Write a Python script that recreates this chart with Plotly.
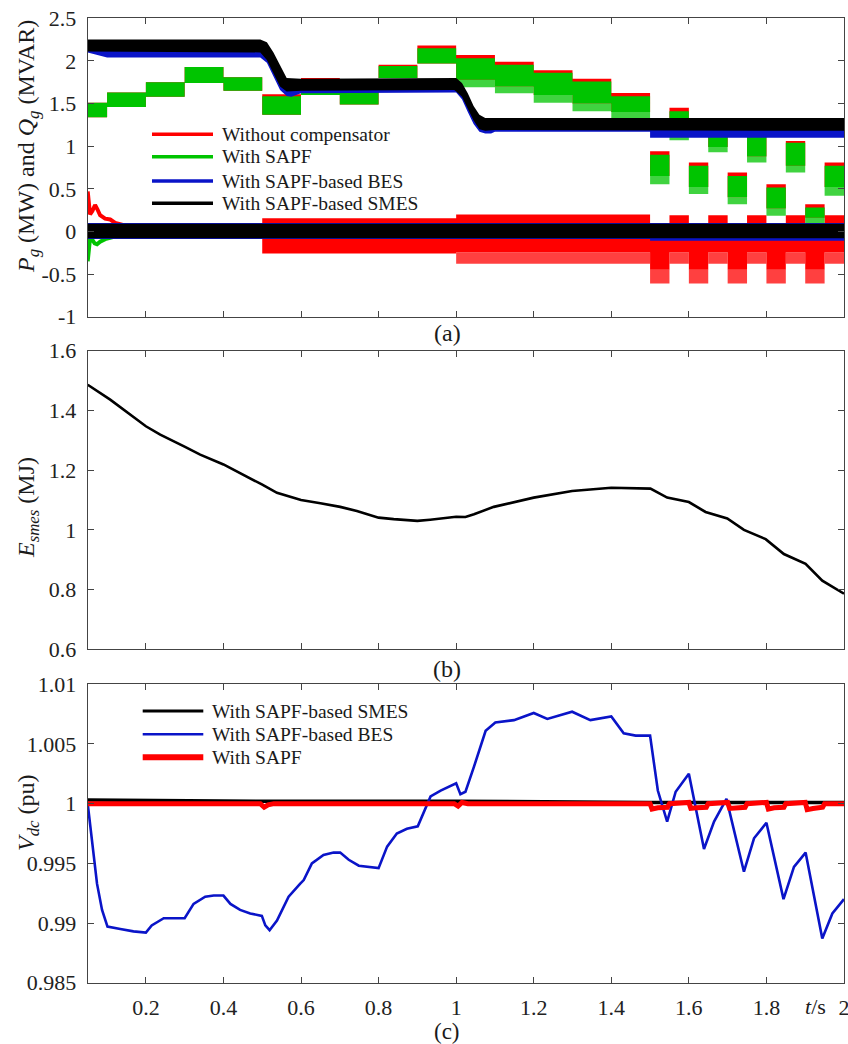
import plotly.graph_objects as go

W, H = 848, 1044

# ---------------- Panel (a): Pg / Qg ----------------
# step segments (edges in seconds)
SEG_EDGES = [0.05, 0.1, 0.2, 0.3, 0.4, 0.5, 0.6, 0.7, 0.8, 0.9, 1.0, 1.1, 1.2, 1.3, 1.4,
             1.5, 1.55, 1.6, 1.65, 1.7, 1.75, 1.8, 1.85, 1.9, 1.95, 2.0]
# With SAPF: P band (top, solid bottom, tooth bottom)
SAPF_P_HI = [1.51, 1.63, 1.75, 1.93, 1.81, 1.585, 1.78, 1.64, 1.94, 2.15, 2.03, 1.955, 1.86, 1.76, 1.585,
             0.90, 1.41, 0.77, 1.20, 0.65, 1.20, 0.515, 1.04, 0.28, 0.77]
SAPF_P_LO = [1.34, 1.46, 1.58, 1.74, 1.65, 1.37, 1.60, 1.49, 1.80, 1.97, 1.78, 1.70, 1.60, 1.50, 1.40,
             0.65, 1.15, 0.52, 0.99, 0.40, 0.88, 0.27, 0.77, 0.16, 0.52]
SAPF_P_TOOTH = [1.34, 1.46, 1.58, 1.74, 1.65, 1.37, 1.60, 1.49, 1.80, 1.97, 1.69, 1.62, 1.51, 1.41, 1.33,
                0.555, 1.07, 0.44, 0.93, 0.32, 0.81, 0.185, 0.69, 0.10, 0.42]
# Without compensator: P top (bottom follows SAPF)
NOCOMP_P_HI = [1.51, 1.63, 1.75, 1.93, 1.81, 1.61, 1.80, 1.64, 1.955, 2.18, 2.07, 1.99, 1.89, 1.79, 1.625,
               0.94, 1.45, 0.81, 1.20, 0.69, 1.20, 0.555, 1.06, 0.32, 0.81]
# Without compensator: Q band
NOCOMP_Q_EDGES = [0.5, 1.0, 1.5, 1.55, 1.6, 1.65, 1.7, 1.75, 1.8, 1.85, 1.9, 1.95, 2.0]
NOCOMP_Q_HI = [0.155, 0.20, 0.05, 0.19, 0.05, 0.19, 0.05, 0.19, 0.05, 0.19, 0.05, 0.19]
NOCOMP_Q_LO = [-0.26, -0.245, -0.45, -0.245, -0.45, -0.245, -0.45, -0.245, -0.45, -0.245, -0.45, -0.245]
NOCOMP_Q_TOOTH = [-0.26, -0.38, -0.61, -0.38, -0.61, -0.38, -0.61, -0.38, -0.61, -0.38, -0.61, -0.38]
# start-up transients
NOCOMP_Q_T = [0.05, 0.052, 0.056, 0.062, 0.069, 0.075, 0.082, 0.095, 0.108, 0.121, 0.138, 0.16, 0.5]
NOCOMP_Q_V = [0.47, 0.40, 0.20, 0.24, 0.31, 0.26, 0.19, 0.15, 0.14, 0.10, 0.08, 0.04, 0.03]
SAPF_Q_T = [0.05, 0.052, 0.056, 0.062, 0.068, 0.074, 0.082, 0.095, 0.12, 0.5, 2.0]
SAPF_Q_V = [-0.35, -0.20, -0.08, -0.10, -0.14, -0.15, -0.12, -0.09, -0.06, -0.03, -0.03]
# SAPF-based BES
BES_P_T = [0.05, 0.1, 0.495, 0.512, 0.529, 0.546, 0.563, 0.575, 0.6, 1.0, 1.015, 1.03, 1.045, 1.06,
           1.075, 1.09, 1.1, 1.5, 1.5, 2.0]
BES_P_HI = [2.22, 2.22, 2.22, 2.18, 2.06, 1.90, 1.77, 1.76, 1.77, 1.77, 1.70, 1.58, 1.44, 1.33,
            1.30, 1.30, 1.30, 1.30, 1.30, 1.30]
BES_P_LO = [2.10, 2.04, 2.04, 1.98, 1.83, 1.66, 1.59, 1.58, 1.62, 1.63, 1.55, 1.40, 1.26, 1.17,
            1.15, 1.15, 1.17, 1.17, 1.10, 1.10]
BES_Q_T = [0.05, 1.5, 1.5, 2.0]
BES_Q_HI = [0.10, 0.10, 0.10, 0.10]
BES_Q_LO = [-0.09, -0.09, -0.11, -0.11]
# SAPF-based SMES
SMES_P_T = [0.05, 0.495, 0.512, 0.529, 0.546, 0.563, 0.6, 0.995,
            1.0, 1.015, 1.03, 1.045, 1.06, 1.075, 1.1, 2.0]
SMES_P_HI = [2.25, 2.25, 2.22, 2.10, 1.95, 1.80, 1.79, 1.80,
             1.80, 1.74, 1.62, 1.47, 1.37, 1.33, 1.33, 1.33]
SMES_P_LO = [2.11, 2.10, 2.01, 1.86, 1.70, 1.64, 1.65, 1.66,
             1.64, 1.58, 1.44, 1.30, 1.20, 1.18, 1.19, 1.18]
SMES_Q_T = [0.05, 2.0]
SMES_Q_HI = [0.09, 0.09]
SMES_Q_LO = [-0.08, -0.08]

# ---------------- Panel (b): E_smes ----------------
E_T = [0.05, 0.108, 0.2, 0.237, 0.301, 0.34, 0.4, 0.443, 0.499, 0.538, 0.6, 0.65, 0.701, 0.744, 0.8,
       0.839, 0.9, 0.933, 1.0, 1.024, 1.046, 1.097, 1.2, 1.299, 1.4, 1.501, 1.544, 1.6, 1.643, 1.699,
       1.742, 1.798, 1.845, 1.901, 1.944, 2.0]
E_V = [1.486, 1.436, 1.347, 1.319, 1.278, 1.252, 1.219, 1.191, 1.152, 1.124, 1.100, 1.089, 1.077, 1.063,
       1.041, 1.036, 1.030, 1.034, 1.044, 1.043, 1.052, 1.077, 1.108, 1.130, 1.141, 1.138, 1.108, 1.093,
       1.060, 1.038, 1.000, 0.969, 0.919, 0.886, 0.830, 0.786]

# ---------------- Panel (c): Vdc ----------------
VB_T = [0.05, 0.061, 0.074, 0.087, 0.101, 0.134, 0.168, 0.2, 0.215, 0.246, 0.271, 0.3, 0.323, 0.353,
        0.375, 0.4, 0.418, 0.443, 0.469, 0.499, 0.508, 0.519, 0.538, 0.568, 0.598, 0.607, 0.628, 0.658,
        0.684, 0.701, 0.723, 0.749, 0.8, 0.822, 0.847, 0.873, 0.901, 0.915, 0.934, 0.96, 1.0, 1.011,
        1.024, 1.046, 1.076, 1.101, 1.149, 1.2, 1.235, 1.299, 1.346, 1.4, 1.432, 1.463, 1.5, 1.52,
        1.544, 1.566, 1.6, 1.639, 1.665, 1.697, 1.742, 1.768, 1.8, 1.844, 1.871, 1.901, 1.944, 1.97, 2.0]
VB_V = [1.0, 0.9969, 0.9933, 0.9911, 0.9897, 0.9895, 0.9893, 0.9892, 0.9898, 0.9904, 0.9904, 0.9904,
        0.9916, 0.9922, 0.9923, 0.9923, 0.9916, 0.9911, 0.9908, 0.9906, 0.9898, 0.9894, 0.9902, 0.9922,
        0.9933, 0.9936, 0.9950, 0.9957, 0.9959, 0.9959, 0.9953, 0.9948, 0.9946, 0.9964, 0.9975, 0.9979,
        0.9981, 0.9992, 1.0006, 1.0011, 1.0017, 1.0008, 1.0010, 1.0031, 1.0061, 1.0068, 1.0070, 1.0076,
        1.0071, 1.0077, 1.0070, 1.0073, 1.0059, 1.0057, 1.0057, 1.0011, 0.9985, 1.0010, 1.0025, 0.9962,
        0.9985, 1.0004, 0.9943, 0.9971, 0.9984, 0.9920, 0.9947, 0.9959, 0.9887, 0.9908, 0.9920]
VK_T = [0.05, 0.5, 1.0, 1.5, 2.0]
VK_V = [1.0003, 1.0002, 1.0002, 1.0001, 1.0001]
VR_T = [0.05, 0.495, 0.505, 0.515, 0.53, 0.995, 1.005, 1.015, 1.03, 1.5, 1.505, 1.52, 1.545, 1.55,
        1.6, 1.605, 1.62, 1.645, 1.65, 1.7, 1.705, 1.72, 1.745, 1.75, 1.8, 1.805, 1.82, 1.845, 1.85,
        1.9, 1.905, 1.92, 1.945, 1.95, 2.0]
VR_V = [1.0, 1.0, 0.9997, 0.9999, 1.0, 1.0, 0.9998, 1.0001, 1.0, 1.0, 0.99955, 0.99965, 0.9997, 1.0,
        1.0001, 0.9996, 0.99965, 0.9997, 1.0, 1.0001, 0.9996, 0.99965, 0.9997, 1.0, 1.0001, 0.99955,
        0.99965, 0.9997, 1.0, 1.0001, 0.9995, 0.9996, 0.9997, 1.0, 1.0]

X_TICKS = [0.2, 0.4, 0.6, 0.8, 1.0, 1.2, 1.4, 1.6, 1.8, 2.0]
X_TICKTEXT = ["0.2", "0.4", "0.6", "0.8", "1", "1.2", "1.4", "1.6", "1.8", "2"]
YA_TICKS = [-1, -0.5, 0, 0.5, 1, 1.5, 2, 2.5]
YA_TEXT = ["-1", "-0.5", "0", "0.5", "1", "1.5", "2", "2.5"]
YB_TICKS = [0.6, 0.8, 1.0, 1.2, 1.4, 1.6]
YB_TEXT = ["0.6", "0.8", "1", "1.2", "1.4", "1.6"]
YC_TICKS = [0.985, 0.99, 0.995, 1.0, 1.005, 1.01]
YC_TEXT = ["0.985", "0.99", "0.995", "1", "1.005", "1.01"]

RED = "#ff0000"
GREEN = "#00c400"
BLUE = "#0a14c8"
BLACK = "#000000"
FONT = "Liberation Serif"


def step_band(edges, hi, lo):
    xs, ys = [], []
    for i in range(len(hi)):
        xs += [edges[i], edges[i + 1]]
        ys += [hi[i], hi[i]]
    for i in reversed(range(len(lo))):
        xs += [edges[i + 1], edges[i]]
        ys += [lo[i], lo[i]]
    return xs, ys


def pt_band(t, hi, lo):
    return list(t) + list(t)[::-1], list(hi) + list(lo)[::-1]


fig = go.Figure()


def band(xs, ys, color, xa="x", ya="y"):
    fig.add_trace(go.Scatter(x=xs, y=ys, fill="toself", fillcolor=color, mode="lines",
                             line=dict(width=0, color=color), xaxis=xa, yaxis=ya,
                             hoverinfo="skip", showlegend=False))


def line(x, y, color, w, xa="x", ya="y"):
    fig.add_trace(go.Scatter(x=x, y=y, mode="lines", line=dict(color=color, width=w),
                             xaxis=xa, yaxis=ya, hoverinfo="skip", showlegend=False))


# Panel (a)
band(*step_band(SEG_EDGES, NOCOMP_P_HI, SAPF_P_LO), RED)
band(*step_band(NOCOMP_Q_EDGES, NOCOMP_Q_HI, NOCOMP_Q_LO), RED)
band(*step_band(NOCOMP_Q_EDGES, NOCOMP_Q_LO, NOCOMP_Q_TOOTH), "rgba(255,0,0,0.75)")
line(NOCOMP_Q_T, NOCOMP_Q_V, RED, 4)
band(*step_band(SEG_EDGES, SAPF_P_HI, SAPF_P_LO), GREEN)
band(*step_band(SEG_EDGES, SAPF_P_LO, SAPF_P_TOOTH), "rgba(0,196,0,0.75)")
line(SAPF_Q_T, SAPF_Q_V, GREEN, 4)
band(*pt_band(BES_P_T, BES_P_HI, BES_P_LO), BLUE)
band(*pt_band(BES_Q_T, BES_Q_HI, BES_Q_LO), BLUE)
band(*pt_band(SMES_P_T, SMES_P_HI, SMES_P_LO), BLACK)
band(*pt_band(SMES_Q_T, SMES_Q_HI, SMES_Q_LO), BLACK)

# Panel (b)
line(E_T, E_V, BLACK, 2.6, "x2", "y2")

# Panel (c)
line(VK_T, VK_V, BLACK, 3.5, "x3", "y3")
line(VB_T, VB_V, BLUE, 2.6, "x3", "y3")
line(VR_T, VR_V, RED, 5, "x3", "y3")


def px(x):
    return x / W


def py(y):
    return 1 - y / H


XDOM = [px(87.7), px(844)]
axis_common = dict(showline=True, linecolor="#444", linewidth=1, mirror="ticks", ticks="inside",
                   ticklen=6, tickcolor="#444", tickwidth=1, showgrid=False, zeroline=False,
                   automargin=False, ticklabeloverflow="allow",
                   tickfont=dict(family=FONT, size=22, color="#222"))

layout = dict(
    template="none",
    width=W, height=H, autosize=False,
    margin=dict(l=0, r=0, t=0, b=0, pad=0),
    paper_bgcolor="white", plot_bgcolor="white",
    showlegend=False,
    xaxis=dict(domain=XDOM, anchor="y", range=[0.05, 2], tickvals=X_TICKS, showticklabels=False, **axis_common),
    xaxis2=dict(domain=XDOM, anchor="y2", range=[0.05, 2], tickvals=X_TICKS, showticklabels=False, **axis_common),
    xaxis3=dict(domain=XDOM, anchor="y3", range=[0.05, 2], tickvals=X_TICKS, ticktext=X_TICKTEXT,
                ticklabelstandoff=5, **axis_common),
    yaxis=dict(domain=[py(316.7), py(18.3)], anchor="x", range=[-1, 2.5], tickvals=YA_TICKS,
               ticktext=YA_TEXT, ticklabelstandoff=6, **axis_common),
    yaxis2=dict(domain=[py(649.3), py(350.7)], anchor="x2", range=[0.6, 1.6], tickvals=YB_TICKS,
                ticktext=YB_TEXT, ticklabelstandoff=6, **axis_common),
    yaxis3=dict(domain=[py(982.7), py(684.3)], anchor="x3", range=[0.985, 1.01], tickvals=YC_TICKS,
                ticktext=YC_TEXT, ticklabelstandoff=6, **axis_common),
)
fig.update_layout(**layout)

ann = []
shapes = []


def text(x, y, s, size=21, anchor="center", angle=0):
    ann.append(dict(x=px(x), y=py(y), xref="paper", yref="paper", text=s, showarrow=False,
                    xanchor=anchor, yanchor="middle", textangle=angle, borderpad=0,
                    font=dict(family=FONT, size=size, color="#1a1a1a")))


# y-axis titles
text(28, 147, "<i>P</i><sub><i>g</i></sub> (MW) and <i>Q</i><sub><i>g</i></sub> (MVAR)", 24, angle=-90)
text(28, 508, "<i>E</i><sub><i>smes</i></sub> (MJ)", 24, angle=-90)
text(28, 813, "<i>V</i><sub><i>dc</i></sub> (pu)", 24, angle=-90)
# panel labels
text(447, 333, "(a)", 24)
text(447, 669, "(b)", 24)
text(447, 1031, "(c)", 23)
text(815, 1006, "<i>t</i>/s", 22)

# legend (a)
LEG_A = [("Without compensator", RED, 134.3), ("With SAPF", GREEN, 156.7),
         ("With SAPF-based BES", BLUE, 181), ("With SAPF-based SMES", BLACK, 203.3)]
for lab, col, yy in LEG_A:
    shapes.append(dict(type="line", xref="paper", yref="paper", x0=px(152), x1=px(213),
                       y0=py(yy), y1=py(yy), line=dict(color=col, width=3.5)))
    text(220.5, yy, lab, 19.5, anchor="left")

# legend (c)
LEG_C = [("With SAPF-based SMES", BLACK, 711, 3), ("With SAPF-based BES", BLUE, 734.3, 2.6),
         ("With SAPF", RED, 757.3, 6)]
for lab, col, yy, w in LEG_C:
    shapes.append(dict(type="line", xref="paper", yref="paper", x0=px(142.7), x1=px(203.3),
                       y0=py(yy), y1=py(yy), line=dict(color=col, width=w)))
    text(210.5, yy, lab, 19.5, anchor="left")

fig.update_layout(annotations=ann, shapes=shapes)
fig.write_html("out.html")
